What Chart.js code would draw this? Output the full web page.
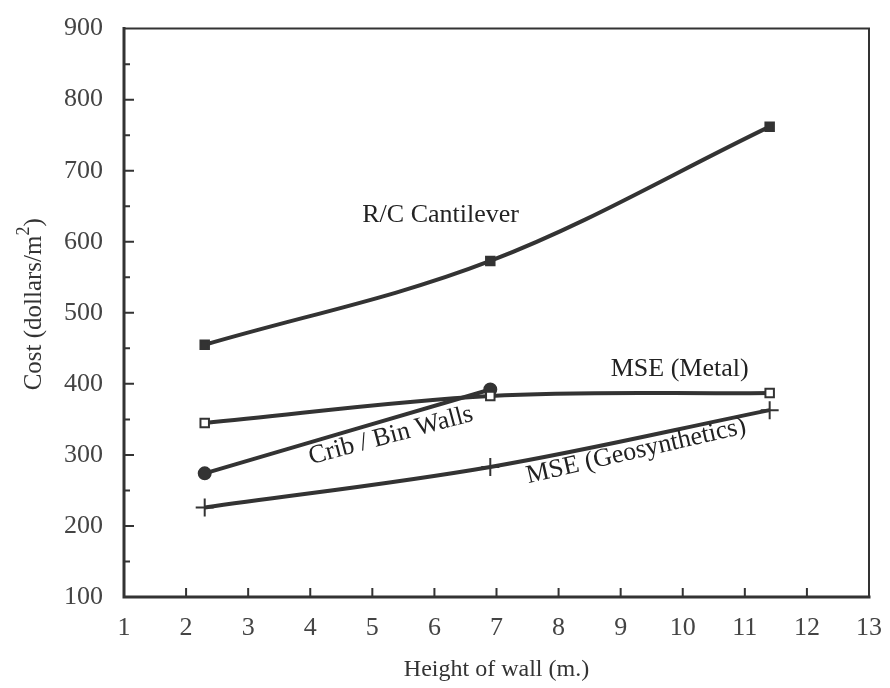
<!DOCTYPE html>
<html>
<head>
<meta charset="utf-8">
<script src="https://cdn.jsdelivr.net/npm/chart.js@4"></script>
<style>
  body { margin: 0; background: #fff; }
  #wrap { width: 890px; height: 688px; }
</style>
</head>
<body>
<div id="wrap"><canvas id="myChart"></canvas></div>
<script>
"use strict";
// Data
const heights = [2.3, 6.9, 11.4];
const rcCantilever = [455, 573, 762];
const mseMetal = [345, 383, 387];
const cribBin = [274, 392];
const mseGeo = [226, 283, 363];

const xTicks = [1, 2, 3, 4, 5, 6, 7, 8, 9, 10, 11, 12, 13];
const yTicks = [100, 200, 300, 400, 500, 600, 700, 800, 900];

// labels on the curves: [text, x, y, angle]
const curveLabels = [
    ["R/C Cantilever", 6.1, 638, 0],
    ["MSE (Metal)", 9.95, 421, 0],
    ["Crib / Bin Walls", 5.3, 327, -15],
    ["MSE (Geosynthetics)", 9.25, 305, -13]
];

const ink = '#333';
const serif = '"Liberation Serif", "Times New Roman", serif';

function pts(ys) {
    return ys.map((y, i) => ({ x: heights[i], y: y }));
}

// frame, inward ticks, texts
const decor = {
    id: 'decor',
    afterDraw(chart) {
        const ctx = chart.ctx;
        const xs = chart.scales.x;
        const ys = chart.scales.y;
        const a = chart.chartArea;
        ctx.save();
        ctx.strokeStyle = ink;
        ctx.lineCap = 'square';
        // top + right (thin)
        ctx.lineWidth = 2;
        ctx.beginPath();
        ctx.moveTo(a.left, a.top);
        ctx.lineTo(a.right, a.top);
        ctx.lineTo(a.right, a.bottom);
        ctx.stroke();
        // left + bottom (thick)
        ctx.lineWidth = 3;
        ctx.beginPath();
        ctx.moveTo(a.left, a.top);
        ctx.lineTo(a.left, a.bottom);
        ctx.lineTo(a.right, a.bottom);
        ctx.stroke();
        // ticks
        ctx.lineWidth = 2;
        ctx.beginPath();
        for (let v = 150; v < 900; v += 50) {
            const py = ys.getPixelForValue(v);
            const len = v % 100 === 0 ? 9 : 5;
            ctx.moveTo(a.left, py);
            ctx.lineTo(a.left + len, py);
        }
        xTicks.slice(1, -1).forEach(v => {
            const px = xs.getPixelForValue(v);
            ctx.moveTo(px, a.bottom);
            ctx.lineTo(px, a.bottom - 8);
        });
        ctx.stroke();

        // y title with superscript
        ctx.fillStyle = ink;
        ctx.translate(33, ys.getPixelForValue(512));
        ctx.rotate(-Math.PI / 2);
        ctx.textBaseline = 'alphabetic';
        ctx.textAlign = 'left';
        const main = 'Cost (dollars/m';
        ctx.font = '25px ' + serif;
        const w1 = ctx.measureText(main).width;
        const w3 = ctx.measureText(')').width;
        ctx.font = '18px ' + serif;
        const w2 = ctx.measureText('2').width;
        let x0 = -(w1 + w2 + w3) / 2;
        ctx.font = '25px ' + serif;
        ctx.fillText(main, x0, 8);
        ctx.font = '18px ' + serif;
        ctx.fillText('2', x0 + w1, -4);
        ctx.font = '25px ' + serif;
        ctx.fillText(')', x0 + w1 + w2, 8);
        ctx.restore();

        // curve labels
        ctx.save();
        ctx.fillStyle = '#222';
        ctx.font = '26px ' + serif;
        ctx.textAlign = 'center';
        ctx.textBaseline = 'middle';
        curveLabels.forEach(l => {
            ctx.save();
            ctx.translate(xs.getPixelForValue(l[1]), ys.getPixelForValue(l[2]));
            ctx.rotate(l[3] * Math.PI / 180);
            ctx.fillText(l[0], 0, 0);
            ctx.restore();
        });
        ctx.restore();
    }
};

const common = {
    borderColor: ink,
    backgroundColor: ink,
    borderWidth: 4,
    tension: 0.35,
    pointBorderColor: ink,
    pointBorderWidth: 2
};

const myChart = new Chart(document.getElementById('myChart'), {
    type: 'line',
    data: {
        datasets: [
            Object.assign({ label: 'R/C Cantilever', data: pts(rcCantilever), pointStyle: 'rect', pointRadius: 6, pointBackgroundColor: ink }, common),
            Object.assign({ label: 'MSE (Metal)', data: pts(mseMetal), pointStyle: 'rect', pointRadius: 6, pointBackgroundColor: '#fff' }, common),
            Object.assign({ label: 'Crib / Bin Walls', data: pts(cribBin), pointStyle: 'circle', pointRadius: 6, pointBackgroundColor: ink }, common),
            Object.assign({ label: 'MSE (Geosynthetics)', data: pts(mseGeo), pointStyle: 'cross', pointRadius: 9, pointBackgroundColor: ink }, common)
        ]
    },
    options: {
        responsive: true,
        maintainAspectRatio: false,
        animation: false,
        layout: { padding: { top: 24, right: 18, left: 0, bottom: 0 } },
        plugins: {
            legend: { display: false },
            tooltip: { enabled: false }
        },
        scales: {
            x: {
                type: 'linear',
                min: 1,
                max: 13,
                afterBuildTicks(s) { s.ticks = xTicks.map(v => ({ value: v })); },
                afterFit(s) { s.height = 91; },
                grid: { display: false },
                border: { display: false },
                ticks: { color: '#444', padding: 8, font: { family: serif, size: 26 } },
                title: { display: true, text: 'Height of wall (m.)', color: ink, padding: { top: 10 }, font: { family: serif, size: 24 } }
            },
            y: {
                type: 'linear',
                min: 100,
                max: 900,
                afterBuildTicks(s) { s.ticks = yTicks.map(v => ({ value: v })); },
                afterFit(s) { s.width = 124; },
                grid: { display: false },
                border: { display: false },
                ticks: { color: '#444', padding: 13, font: { family: serif, size: 26 } }
            }
        }
    },
    plugins: [decor]
});
</script>
</body>
</html>
